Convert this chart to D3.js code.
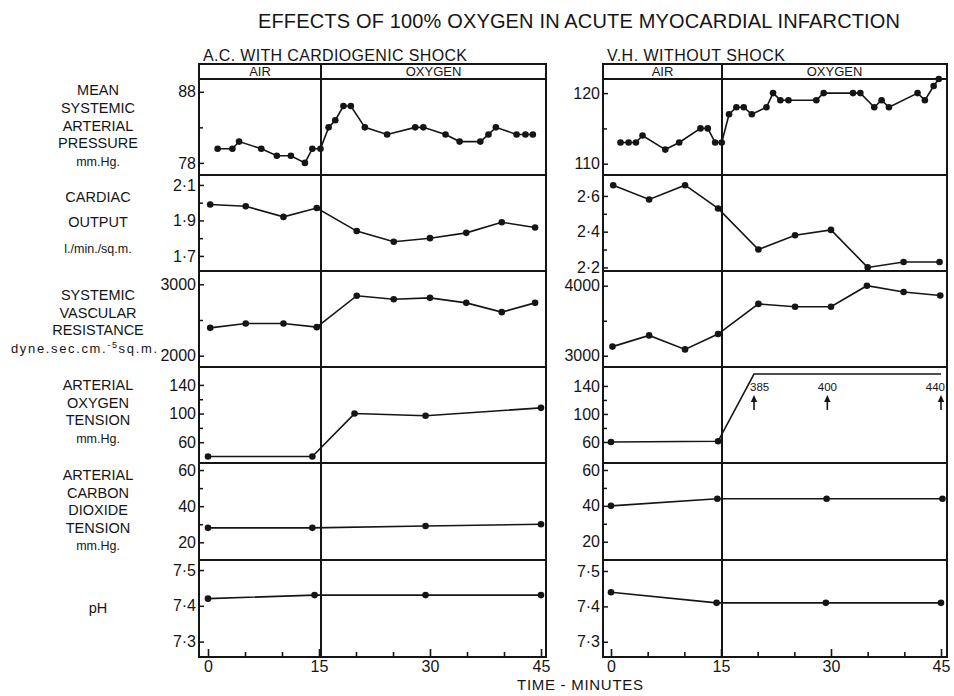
<!DOCTYPE html>
<html>
<head>
<meta charset="utf-8">
<script src="https://cdn.jsdelivr.net/npm/d3@7"></script>
<style>
  body { margin: 0; background: #fff; }
  svg text { font-family: "Liberation Sans", Arial, sans-serif; fill: #151515; }
</style>
</head>
<body>
<svg id="chart" width="954" height="696"></svg>
<script>
// time in minutes
const minuteTicks = [0, 15, 30, 45];
const minuteMinor = [5, 10, 20, 25, 35, 40];

// A.C. with cardiogenic shock
const acPressure = [[1.3, 80], [3.3, 80], [4.2, 81], [7.2, 80], [9.3, 79], [11.2, 79], [13.1, 78], [14.1, 80], [15.2, 80],
  [16.3, 83], [17.2, 84], [18.3, 86], [19.3, 86], [21.2, 83], [24.2, 82], [28, 83], [29.1, 83], [32.1, 82], [34, 81],
  [36.8, 81], [37.9, 82], [38.9, 83], [41.7, 82], [42.9, 82], [43.9, 82]];
const acOutput = [[0.3, 1.99], [5.1, 1.98], [10.2, 1.92], [14.7, 1.97], [20.1, 1.84], [25.1, 1.78], [30, 1.80], [34.9, 1.83], [39.7, 1.89], [44.2, 1.86]];
const acResistance = [[0.3, 2390], [5.1, 2450], [10.2, 2450], [14.7, 2400], [20.1, 2840], [25.1, 2790], [30, 2810], [34.9, 2740], [39.7, 2610], [44.2, 2740]];
const acOxygen = [[0, 40], [14.1, 40], [19.8, 100], [29.4, 97], [45, 108]];
const acCarbon = [[0, 28], [14.1, 28], [29.4, 29], [45, 30]];
const acPH = [[0, 7.42], [14.4, 7.43], [29.4, 7.43], [45, 7.43]];

// V.H. without shock
const vhPressure = [[1.3, 113], [2.4, 113], [3.4, 113], [4.3, 114], [7.4, 112], [9.3, 113], [12.2, 115], [13.2, 115], [14.2, 113],
  [15.1, 113], [16.1, 117], [17.1, 118], [18.1, 118], [19.2, 117], [21.2, 118], [22.1, 120], [23.1, 119], [24.2, 119], [28, 119],
  [29, 120], [33, 120], [34, 120], [35.9, 118], [36.9, 119], [37.9, 118], [41.8, 120], [42.8, 119], [44, 121], [44.7, 122]];
const vhOutput = [[0.3, 2.66], [5.2, 2.58], [10.1, 2.66], [14.6, 2.53], [20.1, 2.30], [25.1, 2.38], [30, 2.41], [35, 2.20], [39.9, 2.23], [44.8, 2.23]];
const vhResistance = [[0.2, 3130], [5.2, 3290], [10.1, 3090], [14.6, 3310], [20.1, 3740], [25.1, 3700], [30, 3700], [34.9, 4000], [39.9, 3910], [44.9, 3860]];
const vhOxygen = [[0, 60], [14.6, 61], [19.5, 385], [29.5, 400], [45, 440]];
const vhCarbon = [[0, 40], [14.5, 44], [29.4, 44], [45.2, 44]];
const vhPH = [[0, 7.44], [14.4, 7.41], [29.3, 7.41], [45, 7.41]];

const rowLabels = [
  ["MEAN", "SYSTEMIC", "ARTERIAL", "PRESSURE", "mm.Hg."],
  ["CARDIAC", "OUTPUT", "l./min./sq.m."],
  ["SYSTEMIC", "VASCULAR", "RESISTANCE", "dyne.sec.cm.|-5|sq.m."],
  ["ARTERIAL", "OXYGEN", "TENSION", "mm.Hg."],
  ["ARTERIAL", "CARBON", "DIOXIDE", "TENSION", "mm.Hg."],
  ["pH"],
];
const acTicks = [[78, 88], [1.7, 1.9, 2.1], [2000, 3000], [60, 100, 140], [20, 40, 60], [7.3, 7.4, 7.5]];
const acMinor = [[83], [1.8, 2.0], [2500], [80, 120], [30, 50], []];
const vhTicks = [[110, 120], [2.2, 2.4, 2.6], [3000, 4000], [60, 100, 140], [20, 40, 60], [7.3, 7.4, 7.5]];
const vhMinor = [[115], [2.3, 2.5], [3500], [80, 120], [30, 50], []];

// layout
const rowEdges = [79, 175, 271, 367, 463, 560, 657];
const boxTop = 64;
const labelLayout = [[95, 17.8], [201.7, 25.7], [300, 17.7], [390, 17.7], [480, 17.5], [613, 0]];
const oxygenCeiling = 157;

const panels = [
  {
    title: "A.C. WITH CARDIOGENIC SHOCK", titleLength: 264,
    left: 199, right: 546, split: 321, range: [208, 541],
    series: [acPressure, acOutput, acResistance, acOxygen, acCarbon, acPH],
    domains: [[76.3, 89.8], [1.615, 2.156], [1842, 3186], [31, 165], [10.2, 63.9], [7.257, 7.528]],
    ticks: acTicks, minor: acMinor,
  },
  {
    title: "V.H. WITHOUT SHOCK", titleLength: 178,
    left: 603, right: 947, split: 722, range: [611, 941],
    series: [vhPressure, vhOutput, vhResistance, vhOxygen, vhCarbon, vhPH],
    domains: [[108.4, 122.0], [2.18, 2.717], [2839, 4210], [30, 167], [9.8, 63.9], [7.257, 7.531]],
    ticks: vhTicks, minor: vhMinor,
  },
];

const ink = "#151515";
const svg = d3.select("#chart");
const decimal = (v) => d3.format(".1f")(v).replace(".", "·");

svg.append("text")
  .attr("x", 258).attr("y", 28)
  .attr("font-size", 20)
  .attr("textLength", 642).attr("lengthAdjust", "spacing")
  .text("EFFECTS OF 100% OXYGEN IN ACUTE MYOCARDIAL INFARCTION");

// row labels on the left
rowLabels.forEach((lines, i) => {
  const [first, step] = labelLayout[i];
  lines.forEach((line, k) => {
    const unit = /[a-z]/.test(line) && line !== "pH";
    const t = svg.append("text")
      .attr("x", 98).attr("y", first + k * step)
      .attr("text-anchor", "middle")
      .attr("font-size", unit ? 12.5 : 14.5);
    if (line.includes("|")) {
      // long unit line sits further left, clear of the 2000 tick label
      const parts = line.split("|");
      t.attr("x", 11).attr("text-anchor", "start")
        .attr("font-size", 13)
        .attr("textLength", 146).attr("lengthAdjust", "spacing");
      t.append("tspan").text(parts[0]);
      t.append("tspan").attr("dy", -5).attr("font-size", 9).text(parts[1]);
      t.append("tspan").attr("dy", 5).text(parts[2]);
    } else {
      t.text(line);
    }
  });
});

panels.forEach((p) => {
  const x = d3.scaleLinear().domain([0, 45]).range(p.range);
  const g = svg.append("g");

  g.append("text")
    .attr("x", p.left + 4).attr("y", 61)
    .attr("font-size", 16)
    .attr("textLength", p.titleLength).attr("lengthAdjust", "spacing")
    .text(p.title);

  g.append("rect")
    .attr("x", p.left).attr("y", boxTop)
    .attr("width", p.right - p.left).attr("height", rowEdges[6] - boxTop)
    .attr("fill", "none").attr("stroke", ink).attr("stroke-width", 2);

  g.selectAll("line.row")
    .data(rowEdges.slice(0, 6))
    .join("line")
    .attr("x1", p.left).attr("x2", p.right)
    .attr("y1", (d) => d).attr("y2", (d) => d)
    .attr("stroke", ink).attr("stroke-width", 2);

  g.append("line")
    .attr("x1", p.split).attr("x2", p.split)
    .attr("y1", boxTop).attr("y2", rowEdges[6])
    .attr("stroke", ink).attr("stroke-width", 2);

  g.append("text").attr("x", (p.left + p.split) / 2).attr("y", 76)
    .attr("text-anchor", "middle").attr("font-size", 13).text("AIR");
  g.append("text").attr("x", (p.split + p.right) / 2).attr("y", 76)
    .attr("text-anchor", "middle").attr("font-size", 13).text("OXYGEN");

  // time axis, ticks pointing up into the box
  const bottom = g.append("g").attr("transform", `translate(0,${rowEdges[6]})`);
  bottom.append("g")
    .call(d3.axisBottom(x).tickValues(minuteMinor).tickSize(-5).tickFormat(""));
  bottom.append("g")
    .call(d3.axisBottom(x).tickValues(minuteTicks).tickSize(-8).tickPadding(4).tickFormat(d3.format("d")))
    .call((a) => a.selectAll("text").attr("font-size", 16).attr("font-family", null).attr("fill", ink));
  bottom.selectAll(".domain").remove();
  bottom.selectAll("line").attr("stroke", ink).attr("stroke-width", 1.6);

  p.series.forEach((data, i) => {
    const y = d3.scaleLinear().domain(p.domains[i]).range([rowEdges[i + 1], rowEdges[i]]);
    const fmt = (i === 1 || i === 5) ? decimal : d3.format("d");

    const axis = g.append("g").attr("transform", `translate(${p.left},0)`);
    axis.append("g")
      .call(d3.axisLeft(y).tickValues(p.ticks[i]).tickSize(-5).tickPadding(3).tickFormat(fmt))
      .call((a) => a.selectAll("text").attr("font-size", 16).attr("font-family", null).attr("fill", ink));
    axis.append("g")
      .call(d3.axisLeft(y).tickValues(p.minor[i]).tickSize(-4).tickFormat(""));
    axis.selectAll(".domain").remove();
    axis.selectAll("line").attr("stroke", ink).attr("stroke-width", 1.5);

    const onScale = data.filter((d) => d[1] <= 140 || i !== 3);
    const line = d3.line()
      .x((d) => x(d[0]))
      .y((d) => y(i === 3 ? Math.min(d[1], oxygenCeiling) : d[1]));

    g.append("path")
      .datum(data)
      .attr("d", line)
      .attr("fill", "none").attr("stroke", ink).attr("stroke-width", 1.6);

    g.selectAll(null)
      .data(onScale)
      .join("circle")
      .attr("cx", (d) => x(d[0])).attr("cy", (d) => y(d[1]))
      .attr("r", 3.3).attr("fill", ink);

    // off-scale oxygen tensions: value and arrow
    const offScale = data.filter((d) => i === 3 && d[1] > 140);
    offScale.forEach((d, k) => {
      const ax = x(d[0]);
      const top = y(140) + 10;
      g.append("line")
        .attr("x1", ax).attr("x2", ax)
        .attr("y1", top + 4).attr("y2", top + 14)
        .attr("stroke", ink).attr("stroke-width", 1.6);
      g.append("path")
        .attr("d", `M${ax},${top - 1}L${ax - 3.2},${top + 6}L${ax + 3.2},${top + 6}Z`)
        .attr("fill", ink);
      const anchor = k === 0 ? "start" : (k === offScale.length - 1 ? "end" : "middle");
      const dx = k === 0 ? -4 : (k === offScale.length - 1 ? 4 : 0);
      g.append("text")
        .attr("x", ax + dx).attr("y", top - 5)
        .attr("text-anchor", anchor).attr("font-size", 11.5)
        .text(d[1]);
    });
  });
});

svg.append("text")
  .attr("x", 517).attr("y", 690)
  .attr("font-size", 15)
  .attr("textLength", 126).attr("lengthAdjust", "spacing")
  .text("TIME - MINUTES");
</script>
</body>
</html>
